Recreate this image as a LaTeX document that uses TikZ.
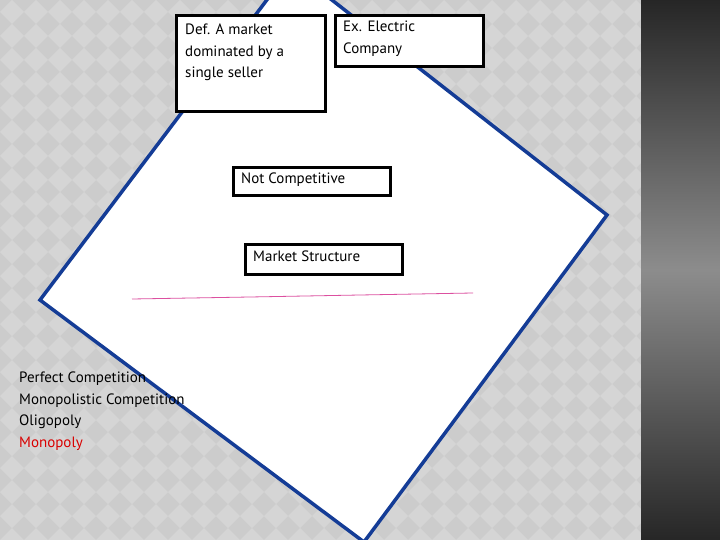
\documentclass[tikz,border=0pt]{standalone}
\usepackage{fontspec}
\setmainfont{PT Sans}
\definecolor{dblue}{RGB}{20,60,150}
\definecolor{pinkline}{RGB}{220,80,160}
\begin{document}
\begin{tikzpicture}[x=1pt,y=-1pt,
  bx/.style={draw=black,line width=3pt,fill=white},
  lbl/.style={anchor=north west,inner sep=0pt,align=left,font=\fontsize{15}{21.5}\selectfont}]
\useasboundingbox (0,0) rectangle (720,540);
\fill[gray!40!white] (0,0) rectangle (641,540);
\foreach \i in {0,...,27}{\foreach \j in {0,...,23}{
  \fill[gray!33!white] (\i*24,\j*24+12) -- (\i*24+12,\j*24) -- (\i*24+24,\j*24+12) -- (\i*24+12,\j*24+24) -- cycle;}}
\shade[top color=black!85,bottom color=black!85,middle color=black!45] (641,0) rectangle (720,540);
\begin{scope}
\clip (0,0) rectangle (641,540);
\draw[fill=white,draw=dblue,line width=3.5pt,line join=miter]
  (291,-32) coordinate (t) -- (607,215) coordinate (r) -- (364,542) coordinate (b) -- (40,300) coordinate (l) -- cycle;
\end{scope}
\draw[pinkline,line width=0.8pt] (132,299) coordinate (p1) -- (250,297) -- (360,295) -- (473,293) coordinate (p2);
\draw[bx] (176,16) rectangle (325,112);
\node[lbl] (def) at (185,24) {Def. A market\\dominated by a\\single seller};
\draw[bx] (335,16) rectangle (483,67);
\node[lbl] (ex) at (343,21) {Ex. Electric\\Company};
\draw[bx] (233,168) rectangle (390,196);
\node[lbl] (nc) at (241,173) {Not Competitive};
\draw[bx] (245,244) rectangle (402,274);
\node[lbl] (ms) at (253,251) {Market Structure};
\node[lbl] (list) at (19,372) {Perfect Competition\\Monopolistic Competition\\Oligopoly\\\textcolor{red!85!black}{Monopoly}};
\end{tikzpicture}
\end{document}
